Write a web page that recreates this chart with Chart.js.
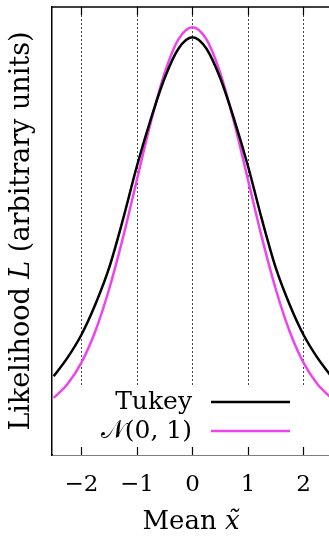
<!DOCTYPE html>
<html>
<head>
<meta charset="utf-8">
<script src="https://cdn.jsdelivr.net/npm/chart.js@4.4.0/dist/chart.umd.min.js"></script>
<style>
  html, body { margin: 0; padding: 0; background: #fff; }
  #wrap { width: 329px; height: 538px; }
</style>
</head>
<body>
<div id="wrap"><canvas id="likelihood-chart" width="329" height="538"></canvas></div>
<script>
// likelihood curves
var xValues = [-2.5, -2.25, -2, -1.75, -1.5, -1.25, -1, -0.75, -0.5, -0.25, 0,
               0.25, 0.5, 0.75, 1, 1.25, 1.5, 1.75, 2, 2.25, 2.5];
var tukeyValues = [0.100, 0.148, 0.207, 0.285, 0.380, 0.505, 0.642, 0.763, 0.869, 0.945, 0.974,
                   0.945, 0.869, 0.763, 0.642, 0.505, 0.380, 0.285, 0.207, 0.148, 0.100];
var normalValues = [0.044, 0.080, 0.135, 0.216, 0.325, 0.458, 0.607, 0.755, 0.882, 0.969, 1.000,
                    0.969, 0.882, 0.755, 0.607, 0.458, 0.325, 0.216, 0.135, 0.080, 0.044];
var xTicks = [-2, -1, 0, 1, 2];
var seriesLabels = ['Tukey', '\u{1D4A9}(0, 1)'];
var xTitle = ['Mean ', 'x\u0303'];
var yTitle = ['Likelihood ', 'L', ' (arbitrary units)'];

var serif = "'DejaVu Serif', 'Liberation Serif', serif";

function points(ys) {
    return xValues.map(function (x, i) { return { x: x, y: ys[i] }; });
}

// grid, key box and tick marks drawn under the curves
var framePlugin = {
    id: 'frame',
    beforeDatasetsDraw: function (chart) {
        var ctx = chart.ctx;
        var area = chart.chartArea;
        var xs = chart.scales.x;
        ctx.save();
        ctx.strokeStyle = '#444';
        ctx.lineWidth = 1;
        ctx.setLineDash([2, 2]);
        xTicks.forEach(function (t) {
            var px = Math.round(xs.getPixelForValue(t)) + 0.5;
            ctx.beginPath();
            ctx.moveTo(px, area.top);
            ctx.lineTo(px, area.bottom);
            ctx.stroke();
        });
        ctx.setLineDash([]);
        // opaque key box
        ctx.fillStyle = '#fff';
        ctx.fillRect(area.left + 1, area.bottom - 68, area.right - area.left, 68);
        // tick marks top and bottom
        ctx.strokeStyle = '#000';
        ctx.lineWidth = 1.2;
        xTicks.forEach(function (t) {
            var px = Math.round(xs.getPixelForValue(t)) + 0.5;
            ctx.beginPath();
            ctx.moveTo(px, area.top);
            ctx.lineTo(px, area.top + 8);
            ctx.moveTo(px, area.bottom);
            ctx.lineTo(px, area.bottom - 8);
            ctx.stroke();
        });
        // top border
        ctx.lineWidth = 1.5;
        ctx.beginPath();
        ctx.moveTo(area.left, area.top);
        ctx.lineTo(area.right, area.top);
        ctx.stroke();
        ctx.restore();
    },
    afterDraw: function (chart) {
        var ctx = chart.ctx;
        var area = chart.chartArea;
        ctx.save();
        ctx.fillStyle = '#000';
        ctx.textBaseline = 'middle';

        // key: text right aligned, then line sample
        var rowY = [area.bottom - 53, area.bottom - 24];
        chart.data.datasets.forEach(function (ds, i) {
            ctx.font = '25px ' + serif;
            ctx.textAlign = 'right';
            ctx.fillText(ds.label, 192, rowY[i]);
            ctx.strokeStyle = ds.borderColor;
            ctx.lineWidth = ds.borderWidth;
            ctx.beginPath();
            ctx.moveTo(211, rowY[i]);
            ctx.lineTo(290, rowY[i]);
            ctx.stroke();
        });

        // x title
        drawRuns(ctx, [[xTitle[0], 'normal'], [xTitle[1], 'italic']], 191, 522, 26);

        // y title, rotated
        ctx.translate(22, (area.top + area.bottom) / 2);
        ctx.rotate(-Math.PI / 2);
        drawRuns(ctx, [[yTitle[0], 'normal'], [yTitle[1], 'italic'], [yTitle[2], 'normal']], 0, 0, 27);
        ctx.restore();
    }
};

function drawRuns(ctx, runs, cx, cy, size) {
    var total = 0;
    runs.forEach(function (r) {
        ctx.font = r[1] + ' ' + size + 'px ' + serif;
        total += ctx.measureText(r[0]).width;
    });
    var x = cx - total / 2;
    ctx.textAlign = 'left';
    ctx.textBaseline = 'middle';
    runs.forEach(function (r) {
        ctx.font = r[1] + ' ' + size + 'px ' + serif;
        ctx.fillText(r[0], x, cy);
        x += ctx.measureText(r[0]).width;
    });
}

var ctx = document.getElementById('likelihood-chart').getContext('2d');
var myChart = new Chart(ctx, {
    type: 'line',
    data: {
        datasets: [{
            label: seriesLabels[0],
            data: points(tukeyValues),
            borderColor: '#000000',
            borderWidth: 2.5,
            pointRadius: 0,
            cubicInterpolationMode: 'monotone'
        }, {
            label: seriesLabels[1],
            data: points(normalValues),
            borderColor: '#ee44ee',
            borderWidth: 2.5,
            pointRadius: 0,
            cubicInterpolationMode: 'monotone'
        }]
    },
    options: {
        responsive: false,
        animation: false,
        layout: { padding: { top: 7, right: 0, left: 0, bottom: 0 } },
        plugins: {
            legend: { display: false },
            tooltip: { enabled: false }
        },
        scales: {
            x: {
                type: 'linear',
                min: -2.53,
                max: 2.46,
                afterBuildTicks: function (scale) {
                    scale.ticks = xTicks.map(function (v) { return { value: v }; });
                },
                afterFit: function (scale) { scale.height = 83; },
                grid: { display: false, drawTicks: false },
                border: { display: true, color: '#000', width: 1.5 },
                ticks: {
                    color: '#000',
                    padding: 16,
                    maxRotation: 0,
                    font: { size: 23, family: serif },
                    callback: function (v) { return String(v).replace('-', '\u2212'); }
                }
            },
            y: {
                type: 'linear',
                min: -0.103,
                max: 1.052,
                afterFit: function (scale) { scale.width = 52; },
                grid: { display: false, drawTicks: false },
                border: { display: true, color: '#000', width: 1.5 },
                ticks: { display: false }
            }
        }
    },
    plugins: [framePlugin]
});
</script>
</body>
</html>
